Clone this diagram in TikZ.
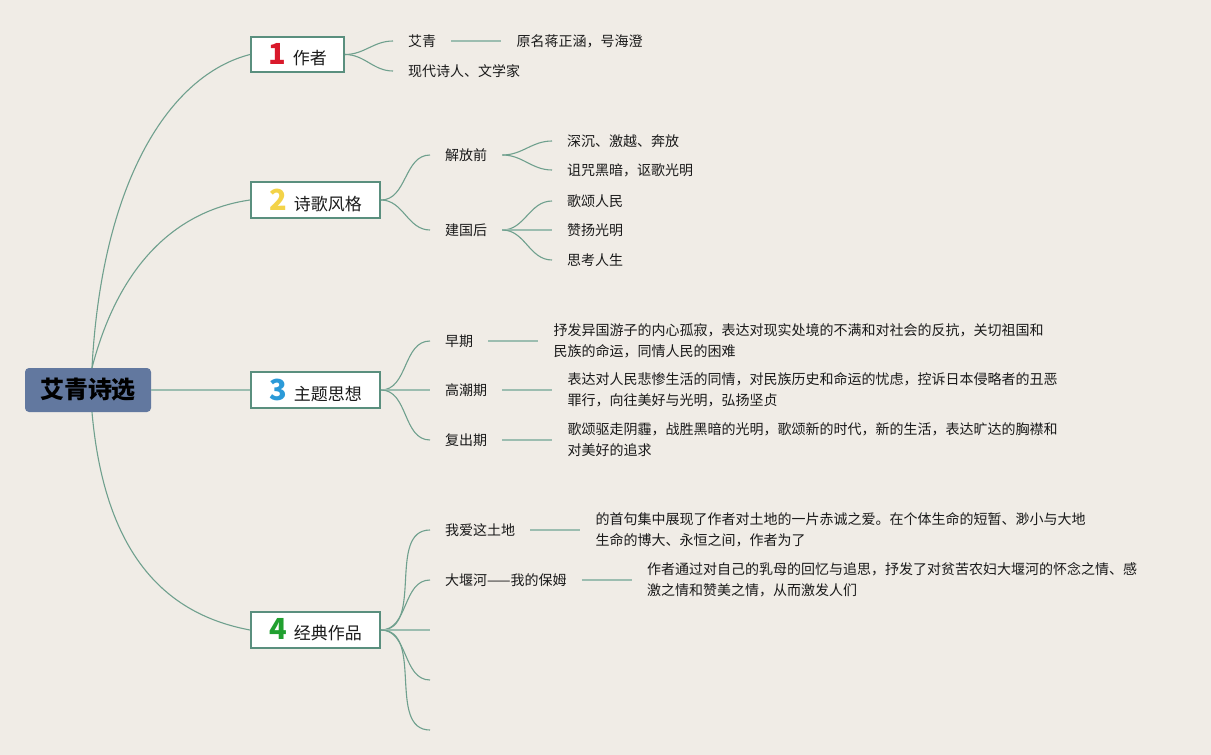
\documentclass[tikz,border=0pt]{standalone}
\usepackage{fontspec}
\setmainfont{Noto Sans CJK SC}
\definecolor{bgc}{HTML}{F0ECE6}
\definecolor{rootc}{HTML}{62789F}
\definecolor{boxc}{HTML}{5A8F7E}
\definecolor{curvec}{HTML}{6FA08E}
\definecolor{flatc}{HTML}{9CBDB0}
\definecolor{textc}{HTML}{1A1A1A}
\definecolor{nA}{HTML}{D9192B}
\definecolor{nB}{HTML}{F3D348}
\definecolor{nC}{HTML}{2B9AD8}
\definecolor{nD}{HTML}{21A030}
\newcommand\bignum[2]{{\color{#1}\fontsize{29}{30}\selectfont\bfseries #2}\hspace{7pt}}
\begin{document}
\begin{tikzpicture}[x=1pt,y=-1pt,
  conn/.style={draw=curvec, line width=1.1pt},
  flat/.style={draw=flatc, line width=1.8pt},
  rootbox/.style={fill=rootc, rounded corners=4pt, minimum width=126pt, minimum height=44pt, inner sep=0pt, font=\fontsize{24}{26}\selectfont\bfseries, text=black},
  topic/.style={draw=boxc, line width=2pt, fill=white, inner sep=0pt, font=\fontsize{17}{20}\selectfont, text=textc},
  leaf/.style={anchor=west, inner xsep=15pt, inner ysep=0pt, font=\fontsize{14}{21}\selectfont, text=textc, align=left}
]
\fill[bgc] (0,0) rectangle (1211,755);
\useasboundingbox (0,0) rectangle (1211,755);

% root and topics
\node[rootbox] (root) at (88,390) {艾青诗选};
\node[topic, minimum width=93pt, minimum height=35pt] (t1) at (297.5,54.5) {\bignum{nA}{1}作者};
\node[topic, minimum width=129pt, minimum height=36pt] (t2) at (315.5,200) {\bignum{nB}{2}诗歌风格};
\node[topic, minimum width=129pt, minimum height=36pt] (t3) at (315.5,390) {\bignum{nC}{3}主题思想};
\node[topic, minimum width=129pt, minimum height=36pt] (t4) at (315.5,630) {\bignum{nD}{4}经典作品};

\draw[conn] ([xshift=4pt]root.north) .. controls (102,180) and (170,75) .. (t1.west);
\draw[conn] ([xshift=4pt]root.north) .. controls (120,260) and (180,210) .. (t2.west);
\draw[flat] (root.east) -- (t3.west);
\draw[conn] ([xshift=4pt]root.south) .. controls (105,560) and (170,615) .. (t4.west);

% topic 1
\node[leaf] (a1) at (393,41) {艾青};
\node[leaf] (a2) at (393,71) {现代诗人、文学家};
\node[leaf] (a1d) at ([xshift=50pt]a1.east) {原名蒋正涵，号海澄};
\draw[conn] (t1.east) to[out=0,in=180] (a1.west);
\draw[conn] (t1.east) to[out=0,in=180] (a2.west);
\draw[flat] (a1.east) -- (a1d.west);

% topic 2
\node[leaf] (b1) at (430,155) {解放前};
\node[leaf] (b2) at (430,230) {建国后};
\draw[conn] (t2.east) to[out=0,in=180] (b1.west);
\draw[conn] (t2.east) to[out=0,in=180] (b2.west);
\node[leaf] (b11) at (552,141) {深沉、激越、奔放};
\node[leaf] (b12) at (552,170) {诅咒黑暗，讴歌光明};
\node[leaf] (b21) at (552,201) {歌颂人民};
\node[leaf] (b22) at (552,230) {赞扬光明};
\node[leaf] (b23) at (552,260) {思考人生};
\draw[conn] (b1.east) to[out=0,in=180] (b11.west);
\draw[conn] (b1.east) to[out=0,in=180] (b12.west);
\draw[conn] (b2.east) to[out=0,in=180] (b21.west);
\draw[flat] (b2.east) -- (b22.west);
\draw[conn] (b2.east) to[out=0,in=180] (b23.west);

% topic 3
\node[leaf] (c1) at (430,341) {早期};
\node[leaf] (c2) at (430,390) {高潮期};
\node[leaf] (c3) at (430,440) {复出期};
\draw[conn] (t3.east) to[out=0,in=180] (c1.west);
\draw[flat] (t3.east) -- (c2.west);
\draw[conn] (t3.east) to[out=0,in=180] (c3.west);
\node[leaf] (c1d) at ([xshift=50pt]c1.east) {抒发异国游子的内心孤寂，表达对现实处境的不满和对社会的反抗，关切祖国和\\民族的命运，同情人民的困难};
\node[leaf] (c2d) at ([xshift=50pt]c2.east) {表达对人民悲惨生活的同情，对民族历史和命运的忧虑，控诉日本侵略者的丑恶\\罪行，向往美好与光明，弘扬坚贞};
\node[leaf] (c3d) at ([xshift=50pt]c3.east) {歌颂驱走阴霾，战胜黑暗的光明，歌颂新的时代，新的生活，表达旷达的胸襟和\\对美好的追求};
\draw[flat] (c1.east) -- (c1d.west);
\draw[flat] (c2.east) -- (c2d.west);
\draw[flat] (c3.east) -- (c3d.west);

% topic 4
\node[leaf] (d1) at (430,530) {我爱这土地};
\node[leaf] (d2) at (430,580) {大堰河——我的保姆};
\coordinate (d3) at (430,630);
\coordinate (d4) at (430,680);
\coordinate (d5) at (430,730);
\draw[conn] (t4.east) to[out=0,in=180] (d1.west);
\draw[conn] (t4.east) to[out=0,in=180] (d2.west);
\draw[flat] (t4.east) -- (d3);
\draw[conn] (t4.east) to[out=0,in=180] (d4);
\draw[conn] (t4.east) to[out=0,in=180] (d5);
\node[leaf] (d1d) at ([xshift=50pt]d1.east) {的首句集中展现了作者对土地的一片赤诚之爱。在个体生命的短暂、渺小与大地\\生命的博大、永恒之间，作者为了};
\node[leaf] (d2d) at ([xshift=50pt]d2.east) {作者通过对自己的乳母的回忆与追思，抒发了对贫苦农妇大堰河的怀念之情、感\\激之情和赞美之情，从而激发人们};
\draw[flat] (d1.east) -- (d1d.west);
\draw[flat] (d2.east) -- (d2d.west);
\end{tikzpicture}
\end{document}
